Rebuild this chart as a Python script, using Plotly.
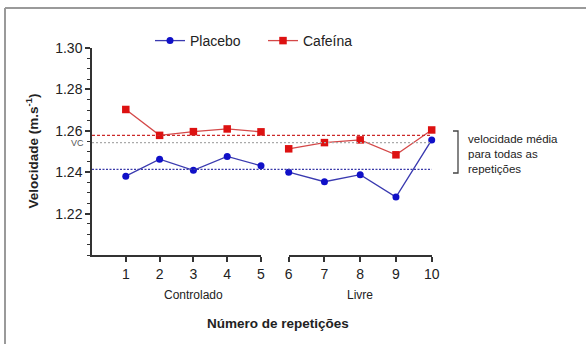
import plotly.graph_objects as go

# ---- data ----
rep_controlado = [1, 2, 3, 4, 5]
rep_livre = [6, 7, 8, 9, 10]
tick_labels_controlado = ["1", "2", "3", "4", "5"]
tick_labels_livre = ["6", "7", "8", "9", "10"]
placebo = [1.2381, 1.2463, 1.2409, 1.2476, 1.2431, 1.2400, 1.2354, 1.2388, 1.2280, 1.2556]
cafeina = [1.2703, 1.2578, 1.2596, 1.2609, 1.2595, 1.2513, 1.2543, 1.2556, 1.2484, 1.2604]
vc_value = 1.2543
y_ticks = [1.22, 1.24, 1.26, 1.28, 1.30]

placebo_mean = sum(placebo) / len(placebo)
cafeina_mean = sum(cafeina) / len(cafeina)

W, H = 586, 344
L, R, T, B = 92, 126, 48, 89
PW = W - L - R
PH = H - T - B


def px_x(px):
    return (px - L) / PW


def px_y(py):
    return (H - B - py) / PH


FONT = "Arial, Liberation Sans, sans-serif"
TXT = "#222222"
BLUE_LINE = "#3a3ab0"
BLUE_MK = "#1010c8"
RED_LINE = "#d44848"
RED_MK = "#dd1111"

n1 = len(rep_controlado)
fig = go.Figure()
fig.add_trace(go.Scatter(x=rep_controlado, y=placebo[:n1], name="Placebo", mode="lines+markers",
                         line=dict(color=BLUE_LINE, width=1.3),
                         marker=dict(color=BLUE_MK, size=7, symbol="circle"),
                         xaxis="x", yaxis="y", legendgroup="p", cliponaxis=False))
fig.add_trace(go.Scatter(x=rep_livre, y=placebo[n1:], name="Placebo", mode="lines+markers",
                         line=dict(color=BLUE_LINE, width=1.3),
                         marker=dict(color=BLUE_MK, size=7, symbol="circle"),
                         xaxis="x2", yaxis="y", legendgroup="p", showlegend=False, cliponaxis=False))
fig.add_trace(go.Scatter(x=rep_controlado, y=cafeina[:n1], name="Cafeína", mode="lines+markers",
                         line=dict(color=RED_LINE, width=1.3),
                         marker=dict(color=RED_MK, size=7.5, symbol="square"),
                         xaxis="x", yaxis="y", legendgroup="c", cliponaxis=False))
fig.add_trace(go.Scatter(x=rep_livre, y=cafeina[n1:], name="Cafeína", mode="lines+markers",
                         line=dict(color=RED_LINE, width=1.3),
                         marker=dict(color=RED_MK, size=7.5, symbol="square"),
                         xaxis="x2", yaxis="y", legendgroup="c", showlegend=False, cliponaxis=False))

d1_end = px_x(261)
d2_start = px_x(288.7)
d2_end = px_x(431.7)

axis_common = dict(showline=True, linecolor="#333333", linewidth=1.5, ticks="outside",
                   ticklen=5, tickwidth=1.5, tickcolor="#333333", showgrid=False, zeroline=False,
                   tickfont=dict(family=FONT, size=14, color=TXT))

fig.update_layout(
    width=W, height=H,
    margin=dict(l=L, r=R, t=T, b=B),
    paper_bgcolor="white", plot_bgcolor="white",
    font=dict(family=FONT, color=TXT),
    xaxis=dict(domain=[0, d1_end], range=[0, 5], tickmode="array",
               tickvals=rep_controlado, ticktext=tick_labels_controlado, anchor="y", **axis_common),
    xaxis2=dict(domain=[d2_start, d2_end], range=[6, 10], tickmode="array",
                tickvals=rep_livre, ticktext=tick_labels_livre, anchor="y", **axis_common),
    yaxis=dict(range=[1.20, 1.30], tickmode="array", tickvals=y_ticks,
               ticktext=[f"{v:.2f}" for v in y_ticks], anchor="x",
               minor=dict(tickmode="linear", tick0=1.20, dtick=0.005, ticklen=3,
                          tickwidth=1.2, tickcolor="#333333", ticks="outside"),
               **axis_common),
    showlegend=True,
    legend=dict(orientation="h", x=px_x(150), y=px_y(41), xanchor="left", yanchor="middle",
                font=dict(family=FONT, size=14, color=TXT), bgcolor="rgba(0,0,0,0)",
                itemwidth=30, tracegroupgap=0, entrywidth=68, entrywidthmode="pixels"),
)

shapes = [
    # mean lines
    dict(type="line", xref="paper", yref="y", x0=0, x1=d2_end, y0=cafeina_mean, y1=cafeina_mean,
         line=dict(color="#cc2a2a", width=1.2, dash="3px,2px")),
    dict(type="line", xref="paper", yref="y", x0=0, x1=d2_end, y0=vc_value, y1=vc_value,
         line=dict(color="#aaaaaa", width=1.2, dash="2px,2px")),
    dict(type="line", xref="paper", yref="y", x0=0, x1=d2_end, y0=placebo_mean, y1=placebo_mean,
         line=dict(color="#3a3aa8", width=1.2, dash="2px,1.5px")),
    # bracket
    dict(type="path", xref="paper", yref="paper",
         path=f"M {px_x(453)},{px_y(131)} L {px_x(458)},{px_y(131)} L {px_x(458)},{px_y(173)} L {px_x(453)},{px_y(173)}",
         line=dict(color="#444444", width=1.3)),
    # frame border (left and top)
    dict(type="line", xref="paper", yref="paper", x0=px_x(5), x1=px_x(5), y0=px_y(8), y1=px_y(350),
         line=dict(color="#9a9a9a", width=2)),
    dict(type="line", xref="paper", yref="paper", x0=px_x(5), x1=px_x(600), y0=px_y(8), y1=px_y(8),
         line=dict(color="#9a9a9a", width=2)),
]
fig.update_layout(shapes=shapes)

annotations = [
    dict(text="VC", xref="paper", yref="y", x=px_x(86), y=vc_value, xanchor="right", yanchor="middle",
         showarrow=False, font=dict(family=FONT, size=9, color="#555555")),
    dict(text="velocidade média<br>para todas as<br>repetições", xref="paper", yref="paper",
         x=px_x(466), y=px_y(131), xanchor="left", yanchor="top", align="left", showarrow=False,
         font=dict(family=FONT, size=11.5, color=TXT)),
    dict(text="Controlado", xref="x", yref="paper", x=3, y=px_y(295), xanchor="center", yanchor="middle",
         showarrow=False, font=dict(family=FONT, size=12, color=TXT)),
    dict(text="Livre", xref="x2", yref="paper", x=8, y=px_y(295), xanchor="center", yanchor="middle",
         showarrow=False, font=dict(family=FONT, size=12, color=TXT)),
    dict(text="<b>Número de repetições</b>", xref="paper", yref="paper", x=px_x(277.5), y=px_y(323),
         xanchor="center", yanchor="middle", showarrow=False, font=dict(family=FONT, size=13.5, color=TXT)),
    dict(text="<b>Velocidade (m.s<sup>-1</sup>)</b>", xref="paper", yref="paper", x=px_x(32), y=0.5,
         xanchor="center", yanchor="middle", textangle=-90, showarrow=False,
         font=dict(family=FONT, size=13.5, color=TXT)),
]
fig.update_layout(annotations=annotations)

fig.write_html("out.html")
